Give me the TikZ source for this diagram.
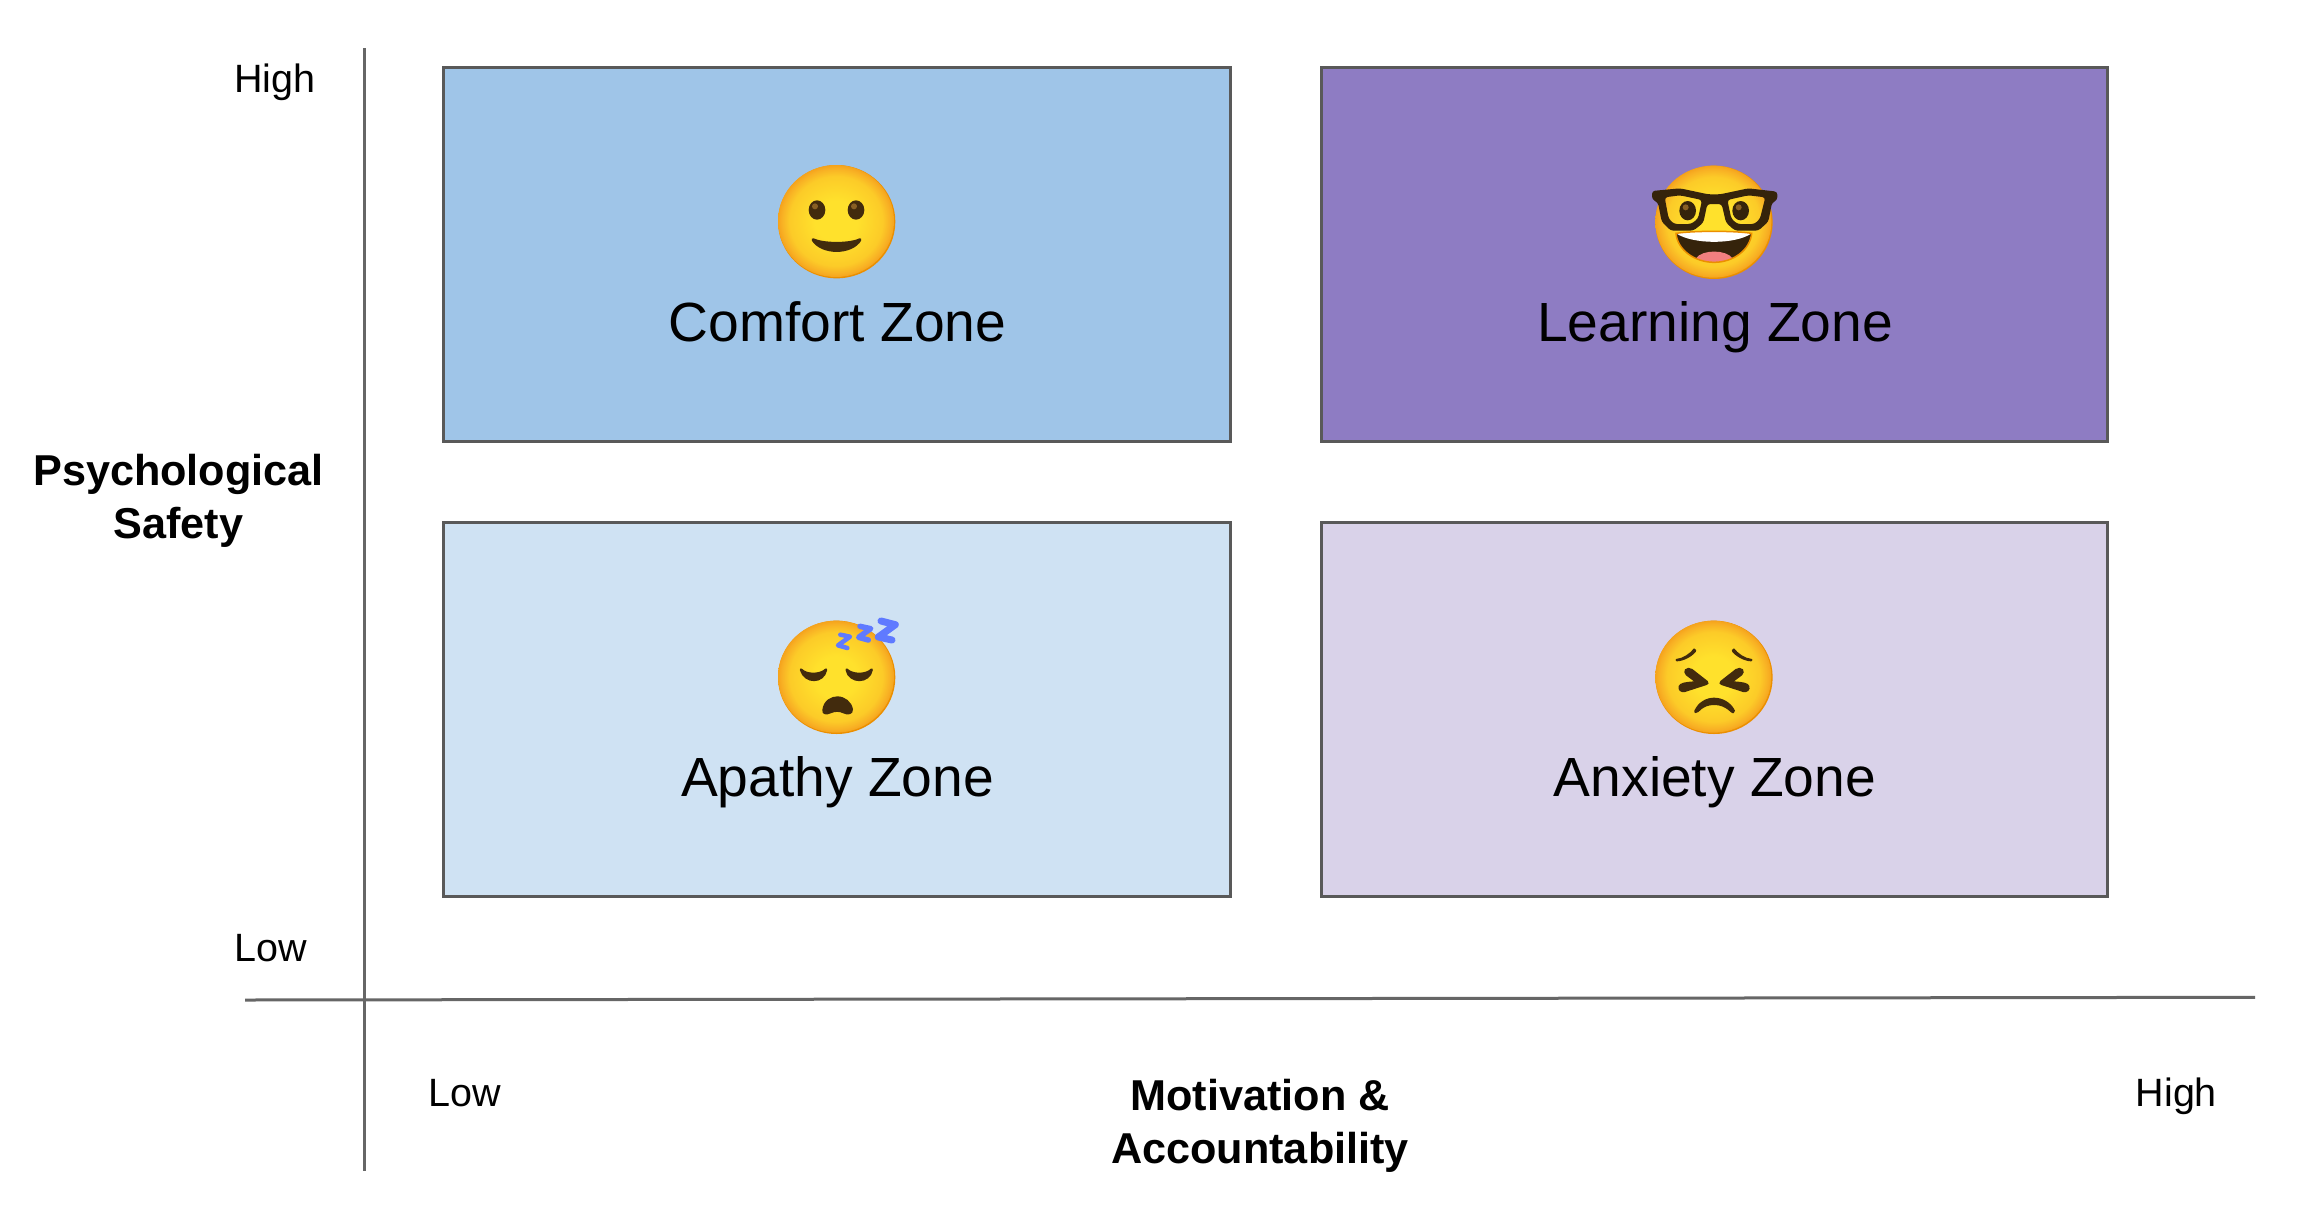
\documentclass[tikz,border=0pt]{standalone}
\usepackage{fontspec}
\setmainfont{Liberation Sans}
\definecolor{zoneblue}{HTML}{9FC5E8}
\definecolor{zonepurple}{HTML}{8E7CC3}
\definecolor{zonepale}{HTML}{CFE2F3}
\definecolor{zonelilac}{HTML}{D9D2E9}
\definecolor{edgegrey}{HTML}{595959}
\definecolor{axisgrey}{HTML}{666666}
\definecolor{fcore}{HTML}{FFE12C}
\definecolor{fmid}{HTML}{FCCB28}
\definecolor{fedge}{HTML}{F8B024}
\definecolor{frim}{HTML}{F5A31C}
\definecolor{frimdark}{HTML}{EB8F00}
\definecolor{fdark}{HTML}{422B0D}
\definecolor{fglass}{HTML}{35230B}
\definecolor{fhi}{HTML}{896024}
\definecolor{ftongue}{HTML}{F17F7F}
\definecolor{zblue}{HTML}{5F7AFF}
\pgfdeclareradialshading{emojiface}{\pgfpoint{0bp}{0bp}}{color(0bp)=(fcore); color(9bp)=(fcore); color(20bp)=(fmid); color(23.5bp)=(fedge); color(25bp)=(frim); color(50bp)=(frim)}
\tikzset{
  zone/.style={draw=edgegrey,line width=3pt,minimum width=786.5pt,minimum height=373.5pt,inner sep=0pt,outer sep=0pt},
  axis/.style={draw=axisgrey,line width=3pt},
  zonelabel/.style={font=\fontsize{55.2}{60}\selectfont,anchor=base,inner sep=0pt},
  tick/.style={font=\fontsize{39.5}{45}\selectfont,anchor=base west,inner sep=0pt},
  axislabel/.style={font=\fontsize{43.2}{53}\selectfont\bfseries,align=center,anchor=center,inner sep=0pt},
  crop/.style={shift={#1},x=0.33333pt,y=-0.33333pt},
}
\newcommand{\emojiface}[2]{%
  \fill[frimdark] (#1,#2) ellipse [x radius=176,y radius=170];
  \shade[shading=emojiface] (#1-2,#2-2) ellipse [x radius=174,y radius=168];
}
\begin{document}
\begin{tikzpicture}[x=1pt,y=-1pt]
\useasboundingbox (0,0) rectangle (2305,1229);
\fill[white] (0,0) rectangle (2305,1229);

\node[zone,fill=zoneblue]   (comfort)  at (837.2,254.5) {};
\node[zone,fill=zonepurple] (learning) at (1714.7,254.5) {};
\node[zone,fill=zonepale]   (apathy)   at (837.2,709.7) {};
\node[zone,fill=zonelilac]  (anxiety)  at (1714.7,709.7) {};

\coordinate (ytop) at (364.7,48);
\coordinate (ybot) at (364.7,1171);
\coordinate (xleft) at (245,1000);
\coordinate (xright) at (2255,997.3);
\draw[axis] (ytop) -- (ybot);
\draw[axis] (xleft) -- (xright);

\node[zonelabel] (lc) at (837.5,341.5) {Comfort Zone};
\node[zonelabel] (ll) at (1715,341.5) {Learning Zone};
\node[zonelabel] (la) at (837.5,796.5) {Apathy Zone};
\node[zonelabel] (lx) at (1715,796.5) {Anxiety Zone};

\node[tick] (yhigh) at (234,92) {High};
\node[tick] (ylow) at (234,961) {Low};
\node[tick] (xlow) at (428,1106.5) {Low};
\node[tick] (xhigh) at (2135.5,1106.5) {High};
\node[axislabel] (ylabel) at (178.5,501) {Psychological\\Safety};
\node[axislabel] (xlabel) at (1260,1125.5) {Motivation \&\\Accountability};

% Smiling face
\begin{scope}[crop={(740,140)}]
  \emojiface{290}{245}
  \fill[fdark] (231,210) ellipse [x radius=25,y radius=29];
  \fill[fdark] (348,210) ellipse [x radius=25,y radius=29];
  \fill[fhi] (225,199) circle [radius=9];
  \fill[fhi] (342,199) circle [radius=9];
  \fill[fdark,draw=fdark,line width=3pt,line join=round] (219,299) .. controls (250,314) and (330,314) .. (360,299)
     .. controls (335,342) and (245,342) .. cycle;
\end{scope}

% Nerd face
\begin{scope}[crop={(1640,140)}]
  \emojiface{222}{247}
  \fill[fglass] (143,212) ellipse [x radius=25,y radius=29];
  \fill[fglass] (302,212) ellipse [x radius=25,y radius=29];
  \fill[fhi] (137,202) circle [radius=9];
  \fill[fhi] (296,202) circle [radius=9];
  \fill[fglass,even odd rule,rounded corners=3pt]
    (36,153) -- (120,145) -- (205,163) -- (240,163) -- (325,145) -- (412,155) -- (412,180) -- (396,188) -- (385,245) -- (355,272) -- (285,272) -- (258,248) -- (245,192) -- (202,192) -- (190,248) -- (160,272) -- (92,272) -- (65,245) -- (54,188) -- (36,178) -- cycle
    (74,172) -- (120,166) -- (186,180) -- (174,236) -- (153,252) -- (102,252) -- (86,236) -- cycle
    (262,180) -- (325,166) -- (376,172) -- (360,236) -- (344,252) -- (292,252) -- (274,236) -- cycle;
  \begin{scope}
    \clip (108,280) .. controls (160,272) and (285,272) .. (335,280) .. controls (330,330) and (280,367) .. (222,367) .. controls (165,367) and (112,330) .. cycle;
    \fill[fglass] (90,260) rectangle (350,380);
    \fill[white] (100,270) rectangle (345,282);
    \fill[white] (108,280) .. controls (160,272) and (285,272) .. (335,280) .. controls (285,314) and (160,314) .. cycle;
    \fill[ftongue] (168,355) .. controls (185,328) and (260,328) .. (277,355) -- (277,375) -- (168,375) -- cycle;
  \end{scope}
  \draw[frimdark,line width=1.5pt] (108,280) .. controls (112,330) and (165,367) .. (222,367) .. controls (280,367) and (330,330) .. (335,280) .. controls (285,272) and (160,272) .. cycle;
\end{scope}

% Sleeping face
\begin{scope}[crop={(740,600)}]
  \emojiface{290}{232}
  \fill[fdark,draw=fdark,line width=2.5pt,line join=round] (183,209) .. controls (200,226) and (240,226) .. (258,209)
    .. controls (250,250) and (195,250) .. cycle;
  \fill[fdark,draw=fdark,line width=2.5pt,line join=round] (320,209) .. controls (338,226) and (378,226) .. (395,209)
    .. controls (388,250) and (328,250) .. cycle;
  \fill[fdark] (247,330) .. controls (250,300) and (275,289) .. (292,289)
     .. controls (315,289) and (335,305) .. (339,328)
     .. controls (340,345) and (322,346) .. (310,340)
     .. controls (298,334) and (285,334) .. (272,340)
     .. controls (258,347) and (245,343) .. cycle;
  \draw[zblue,line width=4.5pt,line join=round,line cap=round] (301,104) -- (330,110) -- (294,136) -- (322,144);
  \draw[zblue,line width=5.5pt,line join=round,line cap=round] (360,79) -- (392,86) -- (356,112) -- (385,120);
  \draw[zblue,line width=7pt,line join=round,line cap=round] (423,63) -- (466,74) -- (415,111) -- (456,120);
\end{scope}

% Persevering face
\begin{scope}[crop={(1640,600)}]
  \emojiface{222}{232}
  \foreach \s/\o in {1/0,-1/444} {
    \fill[fdark] (\o+\s*108,177) .. controls (\o+\s*130,175) and (\o+\s*150,160) .. (\o+\s*162,145)
      .. controls (\o+\s*170,148) and (\o+\s*170,152) .. (\o+\s*167,156)
      .. controls (\o+\s*155,170) and (\o+\s*130,184) .. (\o+\s*110,184) .. controls (\o+\s*106,182) and (\o+\s*106,180) .. cycle;
    \fill[fdark] (\o+\s*135,208) .. controls (\o+\s*140,202) and (\o+\s*150,202) .. (\o+\s*157,207)
      -- (\o+\s*203,243) .. controls (\o+\s*208,248) and (\o+\s*206,254) .. (\o+\s*200,255)
      -- (\o+\s*135,276) .. controls (\o+\s*122,279) and (\o+\s*112,270) .. (\o+\s*116,258)
      .. controls (\o+\s*120,248) and (\o+\s*135,246) .. (\o+\s*162,244)
      -- (\o+\s*138,226) .. controls (\o+\s*132,220) and (\o+\s*131,214) .. cycle;
  }
  \fill[fdark] (163,332) .. controls (175,305) and (200,293) .. (222,293)
    .. controls (245,293) and (272,305) .. (285,332)
    .. controls (286,340) and (278,342) .. (272,336)
    .. controls (255,320) and (240,315) .. (222,315)
    .. controls (205,315) and (190,320) .. (175,336)
    .. controls (170,342) and (161,340) .. cycle;
\end{scope}
\end{tikzpicture}
\end{document}
